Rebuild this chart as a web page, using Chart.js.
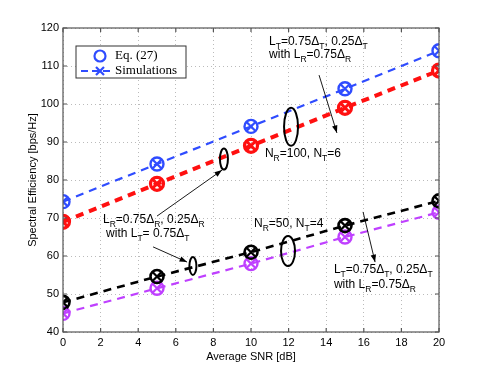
<!DOCTYPE html>
<html>
<head>
<meta charset="utf-8">
<script src="https://cdn.jsdelivr.net/npm/chart.js@4.4.0/dist/chart.umd.min.js"></script>
<style>
  html, body { margin: 0; padding: 0; background: #fff; }
  #c { display: block; }
</style>
</head>
<body>
<canvas id="c" width="485" height="374"></canvas>
<script>
// data
const snr = [0, 5, 10, 15, 20];
const xTicks = [0, 2, 4, 6, 8, 10, 12, 14, 16, 18, 20];
const yTicks = [40, 50, 60, 70, 80, 90, 100, 110, 120];

const blueVals = [74.3, 84.2, 94.1, 104.0, 114.0];   // N_R=100, N_T=6, L_T varied
const redVals = [69.0, 79.0, 89.0, 99.0, 108.8];     // N_R=100, N_T=6, L_R varied
const blackVals = [47.8, 54.6, 61.0, 68.0, 74.5];    // N_R=50, N_T=4, L_R varied
const purpleVals = [44.9, 51.5, 58.0, 65.0, 71.5];   // N_R=50, N_T=4, L_T varied

const BLUE = '#2f4cff', RED = '#ff1010', BLACK = '#000000', PURPLE = '#bf40ff';

function simSet(vals, color, width) {
    return {
        label: 'Simulations',
        data: vals,
        borderColor: color,
        backgroundColor: color,
        borderWidth: width,
        borderDash: [8, 6],
        pointStyle: 'crossRot',
        pointRadius: 6,
        pointBorderWidth: width > 3 ? 3 : 2.2,
        tension: 0
    };
}
function eqSet(vals, color, width) {
    return {
        label: 'Eq. (27)',
        data: vals,
        showLine: false,
        borderColor: color,
        backgroundColor: 'rgba(0,0,0,0)',
        pointStyle: 'circle',
        pointRadius: 6.5,
        pointBorderWidth: width
    };
}

// annotations, anchored in data coords
const notes = [
    { x: 10.96, y: 115.5, t: 'L_T=0.75Δ_T, 0.25Δ_T' },
    { x: 10.96, y: 112.1, t: 'with L_R=0.75Δ_R' },
    { x: 10.74, y: 86.1, t: 'N_R=100, N_T=6' },
    { x: 2.13, y: 68.8, t: 'L_R=0.75Δ_R, 0.25Δ_R' },
    { x: 2.29, y: 65.0, t: 'with L_T= 0.75Δ_T' },
    { x: 10.16, y: 67.7, t: 'N_R=50, N_T=4' },
    { x: 14.41, y: 55.5, t: 'L_T=0.75Δ_T, 0.25Δ_T' },
    { x: 14.41, y: 51.6, t: 'with L_R=0.75Δ_R' }
];
const arrows = [
    [13.62, 107.6, 14.57, 92.4],
    [5.0, 70.5, 8.46, 82.6],
    [4.79, 62.4, 6.6, 58.4],
    [15.96, 71.6, 16.6, 58.4]
];
const ellipses = [
    [12.13, 94.0, 7, 19],
    [8.56, 85.5, 4, 10.5],
    [6.91, 57.4, 3.5, 9],
    [11.97, 61.3, 7, 15]
];

const FONT = '"Liberation Sans", Arial, sans-serif';

function drawSubText(ctx, x, y, str) {
    let cx = x;
    for (let i = 0; i < str.length; i++) {
        const ch = str[i];
        if (ch === '_') {
            ctx.font = '8.5px ' + FONT;
            ctx.fillText(str[i + 1], cx, y + 4);
            cx += ctx.measureText(str[i + 1]).width;
            i++;
        } else {
            ctx.font = '12px ' + FONT;
            ctx.fillText(ch, cx, y);
            cx += ctx.measureText(ch).width;
        }
    }
}

const extras = {
    id: 'extras',
    afterDatasetsDraw(chart) {
        const ctx = chart.ctx;
        const xs = chart.scales.x, ys = chart.scales.y;
        const a = chart.chartArea;
        ctx.save();

        // frame + inward ticks (matlab style)
        ctx.strokeStyle = '#555';
        ctx.lineWidth = 1.2;
        ctx.strokeRect(a.left, a.top, a.right - a.left, a.bottom - a.top);
        ctx.beginPath();
        xTicks.forEach(v => {
            const px = xs.getPixelForValue(v);
            ctx.moveTo(px, a.bottom); ctx.lineTo(px, a.bottom - 4);
            ctx.moveTo(px, a.top); ctx.lineTo(px, a.top + 4);
        });
        yTicks.forEach(v => {
            const py = ys.getPixelForValue(v);
            ctx.moveTo(a.left, py); ctx.lineTo(a.left + 4, py);
            ctx.moveTo(a.right, py); ctx.lineTo(a.right - 4, py);
        });
        ctx.stroke();

        // annotation text
        ctx.fillStyle = '#000';
        ctx.textBaseline = 'alphabetic';
        ctx.textAlign = 'left';
        notes.forEach(n => drawSubText(ctx, xs.getPixelForValue(n.x), ys.getPixelForValue(n.y), n.t));

        // arrows
        ctx.strokeStyle = '#000';
        ctx.lineWidth = 0.9;
        arrows.forEach(([x1, y1, x2, y2]) => {
            const p1x = xs.getPixelForValue(x1), p1y = ys.getPixelForValue(y1);
            const p2x = xs.getPixelForValue(x2), p2y = ys.getPixelForValue(y2);
            const ang = Math.atan2(p2y - p1y, p2x - p1x);
            ctx.beginPath();
            ctx.moveTo(p1x, p1y); ctx.lineTo(p2x, p2y);
            ctx.stroke();
            ctx.beginPath();
            ctx.moveTo(p2x, p2y);
            ctx.lineTo(p2x - 8 * Math.cos(ang - 0.35), p2y - 8 * Math.sin(ang - 0.35));
            ctx.lineTo(p2x - 8 * Math.cos(ang + 0.35), p2y - 8 * Math.sin(ang + 0.35));
            ctx.closePath();
            ctx.fill();
        });

        // ellipses
        ctx.lineWidth = 2;
        ellipses.forEach(([ex, ey, rx, ry]) => {
            ctx.beginPath();
            ctx.ellipse(xs.getPixelForValue(ex), ys.getPixelForValue(ey), rx, ry, 0, 0, Math.PI * 2);
            ctx.stroke();
        });

        // legend box
        const lx = a.left + 13, ly = a.top + 18, lw = 110, lh = 32;
        ctx.fillStyle = '#fff';
        ctx.fillRect(lx, ly, lw, lh);
        ctx.strokeStyle = '#333';
        ctx.lineWidth = 1;
        ctx.strokeRect(lx, ly, lw, lh);
        ctx.strokeStyle = BLUE;
        ctx.lineWidth = 2.2;
        ctx.beginPath();
        ctx.arc(lx + 24, ly + 10, 5.5, 0, Math.PI * 2);
        ctx.stroke();
        ctx.setLineDash([7, 4]);
        ctx.beginPath();
        ctx.moveTo(lx + 5, ly + 25); ctx.lineTo(lx + 37, ly + 25);
        ctx.stroke();
        ctx.setLineDash([]);
        ctx.beginPath();
        ctx.moveTo(lx + 20, ly + 21); ctx.lineTo(lx + 28, ly + 29);
        ctx.moveTo(lx + 28, ly + 21); ctx.lineTo(lx + 20, ly + 29);
        ctx.stroke();
        ctx.fillStyle = '#000';
        ctx.font = '13px "Liberation Serif", "DejaVu Serif", serif';
        ctx.textBaseline = 'middle';
        ctx.fillText('Eq. (27)', lx + 39, ly + 10);
        ctx.fillText('Simulations', lx + 39, ly + 25);

        ctx.restore();
    }
};

const ctx1 = document.getElementById('c');

const myChart = new Chart(ctx1, {
    type: 'line',
    data: {
        labels: snr,
        datasets: [
            simSet(blueVals, BLUE, 2.2),
            simSet(redVals, RED, 4),
            simSet(blackVals, BLACK, 2.6),
            simSet(purpleVals, PURPLE, 2.2),
            eqSet(blueVals, BLUE, 2.4),
            eqSet(redVals, RED, 3.2),
            eqSet(blackVals, BLACK, 2.6),
            eqSet(purpleVals, PURPLE, 2.4)
        ].map(d => Object.assign(d, { data: d.data.map((v, i) => ({ x: snr[i], y: v })) }))
    },
    options: {
        responsive: false,
        animation: false,
        layout: { padding: { left: 26, right: 46, top: 28, bottom: 10 } },
        plugins: {
            legend: { display: false },
            tooltip: { enabled: false }
        },
        scales: {
            x: {
                type: 'linear',
                min: 0, max: 20,
                afterBuildTicks: s => { s.ticks = xTicks.map(v => ({ value: v })); },
                afterFit: s => { s.height = 32; },
                grid: { color: '#bbb', lineWidth: 1, drawTicks: false },
                border: { display: false, dash: [1, 3] },
                ticks: { color: '#000', padding: 4, font: { family: FONT, size: 11 } },
                title: { display: true, text: 'Average SNR [dB]', color: '#000', padding: { top: 0, bottom: 0 }, font: { family: FONT, size: 11 } }
            },
            y: {
                min: 40, max: 120,
                afterBuildTicks: s => { s.ticks = yTicks.map(v => ({ value: v })); },
                afterFit: s => { s.width = 37; },
                grid: { color: '#bbb', lineWidth: 1, drawTicks: false },
                border: { display: false, dash: [1, 3] },
                ticks: { color: '#000', padding: 4, font: { family: FONT, size: 11 } },
                title: { display: true, text: 'Spectral Efficiency [bps/Hz]', color: '#000', padding: { top: 0, bottom: 0 }, font: { family: FONT, size: 11 } }
            }
        }
    },
    plugins: [extras]
});
</script>
</body>
</html>
